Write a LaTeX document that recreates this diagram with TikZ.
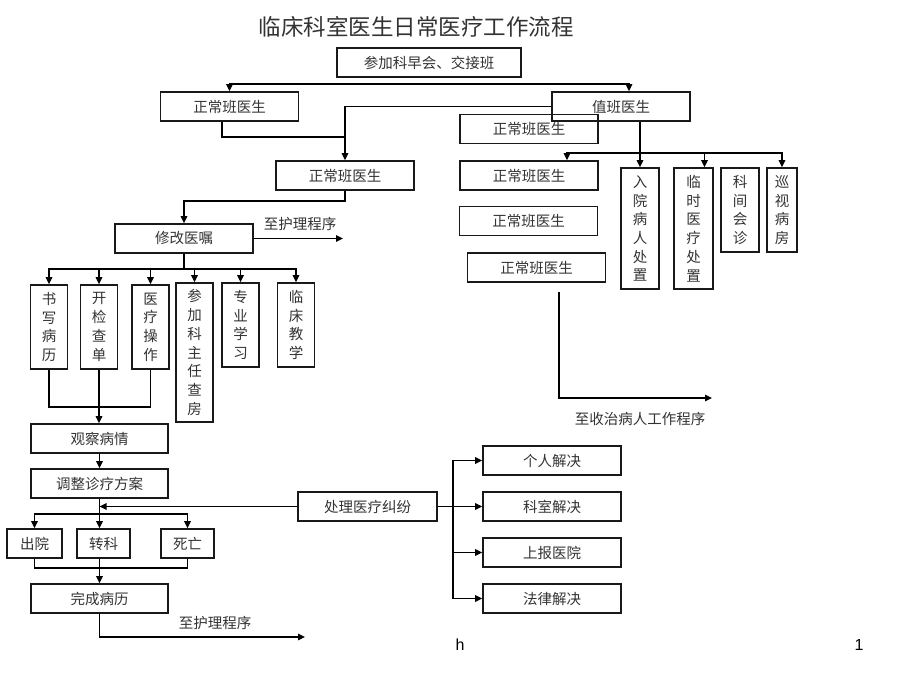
\documentclass[tikz,border=0pt]{standalone}
\usepackage{fontspec}
\setmainfont{Liberation Sans}
\newfontfamily\cjk{Noto Sans CJK SC}
\usetikzlibrary{arrows.meta}
\newcommand*{\boxfont}{\cjk\fontsize{14.5}{18.7}\selectfont}

\tikzset{
  box/.style={draw=black!90, line width=1.6pt, text=black!80, minimum width=138pt,
    minimum height=29pt, inner sep=0pt, font=\boxfont},
  tallbox/.style={box, minimum width=37pt, align=center},
  note/.style={text=black!80, font=\boxfont}
}

\begin{document}
\begin{tikzpicture}[x=1pt, y=-1pt, line width=1.4pt, >={Triangle[length=7pt,width=6.5pt]}]
  \useasboundingbox (0,0) rectangle (920,690);

  \node[note, font=\cjk\fontsize{22.5}{26}\selectfont] (title) at (416,27) {临床科室医生日常医疗工作流程};

  % upper part
  \node[box, minimum width=184pt] (hb) at (429,62.5) {参加科早会、交接班};
  \node[box] (zl) at (229.5,106.5) {正常班医生};
  \node[box] (zb) at (621,106.5) {值班医生};
  \node[box] (r1) at (529,129) {正常班医生};
  \node[box] (zm) at (345,175.5) {正常班医生};
  \node[box] (r2) at (529,175.5) {正常班医生};
  \node[box] (r3) at (528.5,221) {正常班医生};
  \node[box] (r4) at (536.5,267.5) {正常班医生};

  \node[tallbox, minimum width=38pt, minimum height=121pt] (rh) at (640,228.5) {入\\院\\病\\人\\处\\置};
  \node[tallbox, minimum width=39pt, minimum height=121pt] (ls) at (693.5,228.5) {临\\时\\医\\疗\\处\\置};
  \node[tallbox, minimum width=38pt, minimum height=84pt] (kj) at (740,210) {科\\间\\会\\诊};
  \node[tallbox, minimum width=30pt, minimum height=84pt] (xs) at (782,210) {巡\\视\\病\\房};

  \node[box] (xg) at (184,238.5) {修改医嘱};
  \node[note] (n1) at (300,224) {至护理程序};
  \node[note] (n2) at (640,419) {至收治病人工作程序};

  % work items
  \foreach \i/\x/\t in {1/49/{书\\写\\病\\历}, 2/99/{开\\检\\查\\单}, 3/150.5/{医\\疗\\操\\作}}
  {
    \node[tallbox, minimum height=84pt] (b\i) at (\x,327) {\t};
  }
  \node[tallbox, minimum height=139pt] (b4) at (194.5,352.5) {参\\加\\科\\主\\任\\查\\房};
  \node[tallbox, minimum height=84pt] (b5) at (240.5,325) {专\\业\\学\\习};
  \node[tallbox, minimum height=84pt] (b6) at (296,325) {临\\床\\教\\学};

  % lower part
  \node[box, minimum width=137pt] (gc) at (99.5,438.5) {观察病情};
  \node[box, minimum width=137pt] (tz) at (99.5,483.5) {调整诊疗方案};
  \node[box, minimum width=55pt] (cy) at (34.5,543.5) {出院};
  \node[box, minimum width=53pt] (zk) at (103.5,543.5) {转科};
  \node[box, minimum width=53pt] (sw) at (187.5,543.5) {死亡};
  \node[box, minimum width=137pt] (wc) at (99.5,598.5) {完成病历};
  \node[note] (n3) at (215,623) {至护理程序};

  \node[box, minimum width=139pt] (cl) at (367.5,506.5) {处理医疗纠纷};
  \foreach \n/\y/\t in {gr/460.5/个人解决, ks/506.5/科室解决, sb/552.5/上报医院, fl/598.5/法律解决}
  {
    \node[box] (\n) at (552,\y) {\t};
  }

  \node[font=\fontsize{16}{18}\selectfont] (pa) at (460,645) {h};
  \node[font=\fontsize{16}{18}\selectfont] (pb) at (859,645) {1};

  % connectors
  \coordinate (j0) at (429,84);
  \coordinate (j1) at (345,137);
  \coordinate (j2) at (640,153);
  \coordinate (e1) at (559,292);
  \coordinate (e2) at (712,398);
  \coordinate (e3) at (343,238.5);
  \coordinate (e4) at (305,637);

  \draw[->] (j0) -| (zl.north);
  \draw[->] (j0) -| ([xshift=8pt]zb.north);
  \draw[->] (zb.west) -| (zm.north);
  \draw ([xshift=-7.5pt]zl.south) |- (j1);
  \draw[->] (rh.north |- zb.south) -- (rh.north);
  \draw[->] (j2) -| ([xshift=38pt]r2.north);
  \draw[->] (j2) -| ([xshift=11pt]ls.north);
  \draw[->] (j2) -| (xs.north);
  \draw[->] (e1) |- (e2);

  \draw[->] (zm.south) -- ++(0,10) -| (xg.north);
  \draw[->] (xg.east) -- (e3);
  \foreach \i in {1,...,6}
  {
    \draw[->] (xg.south) -- ++(0,15) -| (b\i.north);
  }
  \draw (b1.south) -- ++(0,37) -| (b3.south);
  \draw[->] (b2.south) -- (b2.south |- gc.north);

  \draw[->] (gc) -- (tz);
  \draw[->] (tz.south) -- ++(0,15) -| (cy.north);
  \draw[->] (tz.south) -- ++(0,15) -| (sw.north);
  \draw[->] (tz.south) -- (tz.south |- zk.north);
  \draw[->] (cl.west) -- (cl.west -| tz.south);
  \draw (cy.south) -- ++(0,9) -| (sw.south);
  \draw[->] (wc.north |- zk.south) -- (wc.north);
  \draw[->] (wc.south) |- (e4);

  \draw (cl.east) -- ++(15,0) coordinate (j4);
  \foreach \n in {gr,ks,sb,fl}
  {
    \draw[->] (j4) |- (\n.west);
  }
\end{tikzpicture}
\end{document}
